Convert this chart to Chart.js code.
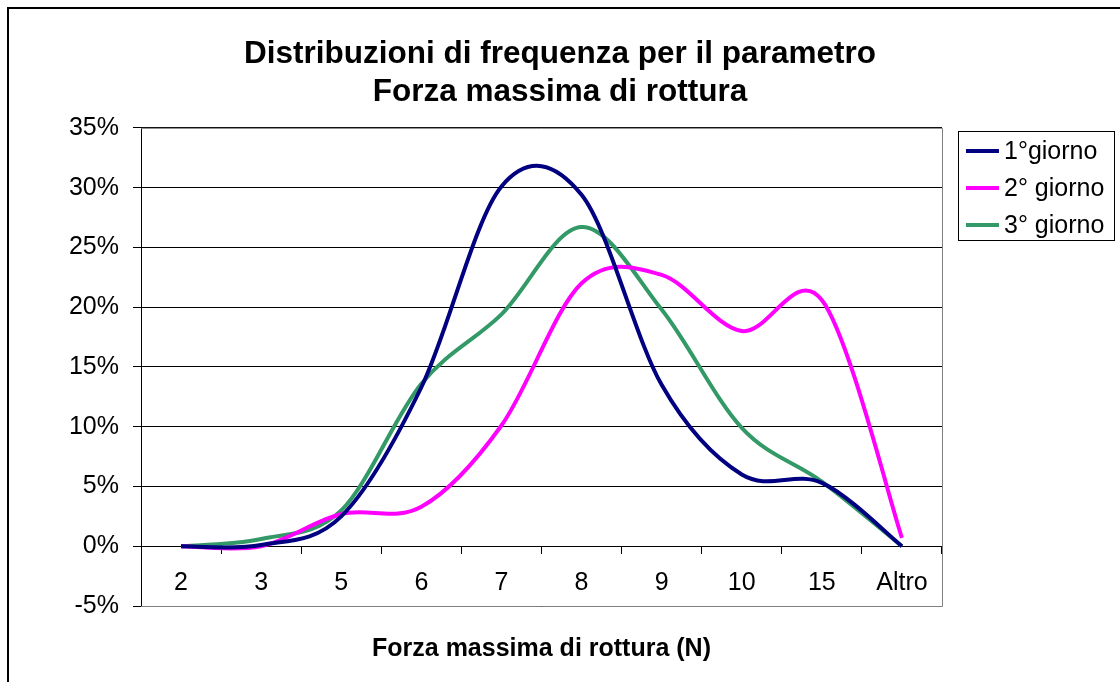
<!DOCTYPE html>
<html lang="it">
<head>
<meta charset="utf-8">
<title>Distribuzioni di frequenza</title>
<script src="https://cdn.jsdelivr.net/npm/chart.js@4.4.1/dist/chart.umd.min.js"></script>
<style>
    html, body { margin: 0; padding: 0; background: #fff; }
    canvas { display: block; }
</style>
</head>
<body>
<canvas id="grafico" width="1120" height="682"></canvas>
<script>
// dati (percentuali)
const categorie = ['2', '3', '5', '6', '7', '8', '9', '10', '15', 'Altro'];
const giorno1 = [0, 0.1, 2.5, 13.3, 30.1, 29.4, 13.5, 6.0, 5.3, 0];
const giorno2 = [0, 0, 2.7, 3.3, 10.1, 22.0, 22.7, 18.0, 20.6, 0.7];
const giorno3 = [0, 0.6, 3.0, 13.6, 19.4, 26.7, 19.8, 9.9, 5.4, 0];
const nomiSerie = ['1°giorno', '2° giorno', '3° giorno'];
const coloriSerie = ['#000080', '#FF00FF', '#339966'];

const FONT = '"Liberation Sans", Arial, sans-serif';

// bordo esterno (solo sinistra e alto visibili)
const bordoEsterno = {
    id: 'bordoEsterno',
    beforeDraw(chart) {
        const ctx = chart.ctx;
        ctx.save();
        ctx.strokeStyle = '#000';
        ctx.lineWidth = 2;
        ctx.beginPath();
        ctx.moveTo(8, chart.height);
        ctx.lineTo(8, 8);
        ctx.lineTo(chart.width, 8);
        ctx.stroke();
        ctx.restore();
    }
};

// cornice grigia dell'area del tracciato
const cornice = {
    id: 'cornice',
    beforeDatasetsDraw(chart) {
        const { ctx, chartArea } = chart;
        ctx.save();
        ctx.strokeStyle = '#808080';
        ctx.lineWidth = 1;
        ctx.beginPath();
        ctx.moveTo(chartArea.left, chartArea.top + 0.5);
        ctx.lineTo(chartArea.right + 0.5, chartArea.top + 0.5);
        ctx.lineTo(chartArea.right + 0.5, chartArea.bottom + 0.5);
        ctx.lineTo(chartArea.left, chartArea.bottom + 0.5);
        ctx.stroke();
        ctx.restore();
    }
};

// curve smussate tipo Excel (Catmull-Rom uniforme sui punti gia' scalati)
const smussaExcel = {
    id: 'smussaExcel',
    beforeDatasetDraw(chart, args) {
        const meta = args.meta;
        const punti = meta.data;
        const n = punti.length;
        for (let i = 0; i < n; i++) {
            const p = punti[i];
            const prec = punti[Math.max(i - 1, 0)];
            const succ = punti[Math.min(i + 1, n - 1)];
            const dx = (succ.x - prec.x) / 6;
            const dy = (succ.y - prec.y) / 6;
            p.cp1x = p.x - dx;
            p.cp1y = p.y - dy;
            p.cp2x = p.x + dx;
            p.cp2y = p.y + dy;
        }
        meta.dataset._pointsUpdated = true;
    }
};

// legenda con bordo, a destra
const legendaBox = {
    id: 'legendaBox',
    afterDraw(chart) {
        const ctx = chart.ctx;
        const x = chart.chartArea.right + 16;
        const y = 131;
        ctx.save();
        ctx.strokeStyle = '#000';
        ctx.lineWidth = 1;
        ctx.strokeRect(x + 0.5, y + 0.5, 156, 109);
        ctx.font = '25px ' + FONT;
        ctx.textBaseline = 'middle';
        ctx.fillStyle = '#000';
        chart.data.datasets.forEach((ds, i) => {
            const yy = y + 20 + i * 37;
            ctx.strokeStyle = ds.borderColor;
            ctx.lineWidth = 4;
            ctx.beginPath();
            ctx.moveTo(x + 8, yy);
            ctx.lineTo(x + 41, yy);
            ctx.stroke();
            ctx.fillText(ds.label, x + 46, yy + 1);
        });
        ctx.restore();
    }
};

const serie = [giorno1, giorno2, giorno3];

new Chart(document.getElementById('grafico'), {
    type: 'line',
    data: {
        labels: categorie,
        datasets: serie.map((valori, i) => ({
            label: nomiSerie[i],
            data: valori,
            borderColor: coloriSerie[i],
            backgroundColor: coloriSerie[i],
            borderWidth: 4,
            pointRadius: 0,
            tension: 0.5,
            fill: false
        }))
    },
    options: {
        responsive: false,
        animation: false,
        layout: { padding: { left: 0, right: 0, top: 0, bottom: 76 } },
        plugins: {
            legend: { display: false },
            tooltip: { enabled: false },
            title: {
                display: true,
                text: ['Distribuzioni di frequenza per il parametro', 'Forza massima di rottura'],
                color: '#000',
                font: { family: FONT, size: 31.5, weight: 'bold', lineHeight: 1.22 },
                padding: { top: 35, bottom: 16 }
            }
        },
        scales: {
            x: {
                position: { y: 0 },
                offset: true,
                grid: {
                    offset: true,
                    drawOnChartArea: false,
                    drawTicks: true,
                    tickLength: 7,
                    color: '#000'
                },
                border: { color: '#000', width: 1 },
                ticks: {
                    color: '#000',
                    padding: 15,
                    maxRotation: 0,
                    autoSkip: false,
                    font: { family: FONT, size: 25 }
                },
                title: {
                    display: true,
                    text: 'Forza massima di rottura (N)',
                    color: '#000',
                    font: { family: FONT, size: 25, weight: 'bold' },
                    padding: { top: 21, bottom: 0 }
                }
            },
            y: {
                min: -5,
                max: 35,
                grid: { color: '#000', tickLength: 8 },
                border: { color: '#000', width: 1 },
                ticks: {
                    stepSize: 5,
                    color: '#000',
                    padding: 14,
                    font: { family: FONT, size: 25 },
                    callback: v => v + '%'
                },
                afterFit(scale) { scale.width = 141; }
            },
            spazioLegenda: {
                type: 'linear',
                position: 'right',
                display: true,
                grid: { display: false, drawTicks: false },
                border: { display: false },
                ticks: { display: false },
                afterFit(scale) { scale.width = 178; }
            }
        }
    },
    plugins: [bordoEsterno, cornice, smussaExcel, legendaBox]
});
</script>
</body>
</html>
